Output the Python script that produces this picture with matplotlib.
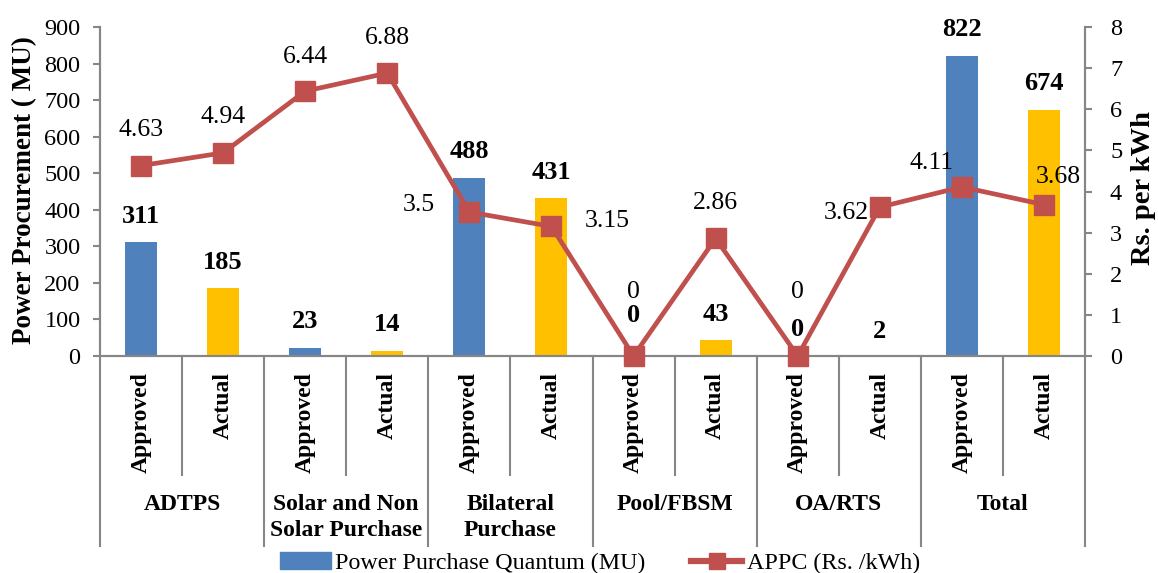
import matplotlib.pyplot as plt
from matplotlib.lines import Line2D
from matplotlib.patches import Patch
from matplotlib.transforms import blended_transform_factory

plt.rcParams["font.family"] = ["Liberation Serif", "DejaVu Serif"]

GROUPS = ["ADTPS", "Solar and Non\nSolar Purchase", "Bilateral\nPurchase",
          "Pool/FBSM", "OA/RTS", "Total"]
KINDS = ["Approved", "Actual"]
QUANTUM = [311, 185, 23, 14, 488, 431, 0, 43, 0, 2, 822, 674]
APPC = [4.63, 4.94, 6.44, 6.88, 3.5, 3.15, 0, 2.86, 0, 3.62, 4.11, 3.68]

BLUE = "#4F81BD"
YELLOW = "#FFC000"
RED = "#C0504D"
GREY = "#868686"

# label nudges in pixels, picked to sit where the original puts them
LINE_LABEL_OFFSETS = [(0, 36), (0, 36), (0, 34), (0, 35), (-51, 7), (56, 5),
                      (0, 64), (0, 35), (0, 64), (-33, -6), (-30, 24), (14, 28)]
BAR_LABEL_OFFSETS = [26, 26, 26, 26, 26, 26, 41, 26, 26, 24, 26, 26]

W, H = 1158, 573
fig = plt.figure(figsize=(W / 100, H / 100), dpi=100)
ax = fig.add_axes([100 / W, (H - 356) / H, 985 / W, 329 / H])
ax2 = ax.twinx()

x = list(range(len(QUANTUM)))
colors = [BLUE if i % 2 == 0 else YELLOW for i in x]
ax.bar(x, QUANTUM, width=0.39, color=colors, zorder=2)
ax.set_xlim(-0.5, len(x) - 0.5)
ax.set_ylim(0, 900)
ax.set_yticks(range(0, 901, 100))
ax.set_xticks([])

for i, v in enumerate(QUANTUM):
    ax.annotate(f"{v}", (i, v), xytext=(0, BAR_LABEL_OFFSETS[i]),
                textcoords="offset pixels", ha="center", va="center",
                fontsize=19, fontweight="bold")

ax2.plot(x, APPC, color=RED, lw=3.4, marker="s", ms=14, clip_on=False, zorder=3)
ax2.set_ylim(0, 8)
ax2.set_yticks(range(0, 9))
for i, v in enumerate(APPC):
    dx, dy = LINE_LABEL_OFFSETS[i]
    ax2.annotate(f"{v:g}", (i, v), xytext=(dx, dy), textcoords="offset pixels",
                 ha="center", va="center", fontsize=18.5)

for a in (ax, ax2):
    a.spines["top"].set_visible(False)
    for side in ("left", "right", "bottom"):
        a.spines[side].set_color(GREY)
        a.spines[side].set_linewidth(1.5)
    a.tick_params(axis="y", colors=GREY, labelcolor="black", labelsize=17.5,
                  length=5, width=1.5)
ax.tick_params(axis="y", pad=9)
ax2.tick_params(axis="y", pad=13)

# two-level category axis
trans = blended_transform_factory(ax.transData, ax.transAxes)
for k in range(len(x) + 1):
    bottom = -0.578 if k % 2 == 0 else -0.362
    ax.plot([k - 0.5, k - 0.5], [0, bottom], color=GREY, lw=1.5,
            transform=trans, clip_on=False)
for i in x:
    ax.text(i, -0.049, KINDS[i % 2], transform=trans, rotation=90,
            ha="center", va="top", fontsize=17, fontweight="bold")
for g, name in enumerate(GROUPS):
    ax.text(2 * g + 0.5, -0.419, name, transform=trans, ha="center", va="top",
            fontsize=17, fontweight="bold", linespacing=1.32)

fig.text(25 / W, (H - 190) / H, "Power Procurement ( MU)", rotation=90,
         ha="center", va="center", fontsize=19.5, fontweight="bold")
fig.text(1144 / W, (H - 188) / H, "Rs. per kWh", rotation=90,
         ha="center", va="center", fontsize=20.5, fontweight="bold")

handles = [Patch(color=BLUE, label="Power Purchase Quantum (MU)"),
           Line2D([], [], color=RED, lw=4.5, marker="s", ms=12,
                  label="APPC (Rs. /kWh)")]
fig.legend(handles=handles, loc="center", bbox_to_anchor=(600 / W, 1 - 563 / H),
           ncol=2, frameon=False, fontsize=17.3, handlelength=2.1,
           handletextpad=0.2, columnspacing=1.9, borderaxespad=0)

fig.savefig("out.png", dpi=100)
